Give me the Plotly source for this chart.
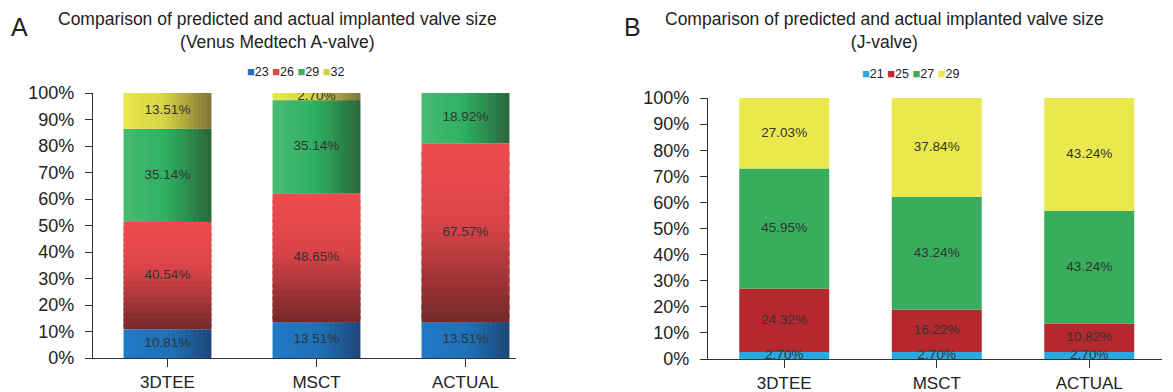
import plotly.graph_objects as go

# ---------------- data ----------------
categories = ["3DTEE", "MSCT", "ACTUAL"]

a_sizes = ["23", "26", "29", "32"]
a_23 = [10.81, 13.51, 13.51]
a_26 = [40.54, 48.65, 67.57]
a_29 = [35.14, 35.14, 18.92]
a_32 = [13.51, 2.70, 0.0]

b_sizes = ["21", "25", "27", "29"]
b_21 = [2.70, 2.70, 2.70]
b_25 = [24.32, 16.22, 10.82]
b_27 = [45.95, 43.24, 43.24]
b_29 = [27.03, 37.84, 43.24]

a_title = ["Comparison of predicted and actual implanted valve size", "(Venus Medtech A-valve)"]
b_title = ["Comparison of predicted and actual implanted valve size", "(J-valve)"]

# ---------------- styles ----------------
FONT = "Liberation Sans, Arial, Helvetica, sans-serif"
W, H = 1173, 392
OX, OY = 8, 8          # page body margin offset
BAR_W = 0.59
N_SLICES = 20
OVERLAP = 1.6


def px(x):
    return (x - OX) / W


def py(y):
    return 1 - (y - OY) / H


# gradient stops (position, colour); A panel uses shaded bars
a_grad = [
    ("h", [(0, "#2279c5"), (0.55, "#1f70b6"), (1, "#1d4777")]),
    ("v", [(0, "#ef4b4f"), (0.45, "#d94448"), (1, "#742829")]),
    ("h", [(0, "#47bc73"), (0.5, "#2eae60"), (1, "#2a663b")]),
    ("h", [(0, "#e9e84b"), (0.45, "#d8d446"), (1, "#7f7438")]),
]
a_legend_cols = ["#1f6fb8", "#e0474b", "#36b062", "#d4d244"]
b_cols = ["#29a9e0", "#b4282e", "#37ad5d", "#e9e84d"]


def hex2rgb(h):
    h = h.lstrip("#")
    return tuple(int(h[i:i + 2], 16) for i in (0, 2, 4))


def interp(stops, t):
    for (t0, c0), (t1, c1) in zip(stops[:-1], stops[1:]):
        if t <= t1:
            f = 0 if t1 == t0 else (t - t0) / (t1 - t0)
            a, b = hex2rgb(c0), hex2rgb(c1)
            return "rgb(%d,%d,%d)" % tuple(round(a[k] + (b[k] - a[k]) * f) for k in range(3))
    return "rgb(%d,%d,%d)" % hex2rgb(stops[-1][1])


fig = go.Figure()


def add_panel(series, names, xa, ya, grads=None, cols=None):
    base = [0.0] * len(categories)
    for s, vals in enumerate(series):
        if grads is None:
            fig.add_trace(go.Bar(
                x=categories, y=vals, base=list(base), width=BAR_W,
                marker=dict(color=cols[s], line=dict(width=0)),
                name=names[s], showlegend=False, xaxis=xa, yaxis=ya,
                hoverinfo="skip"))
        else:
            kind, stops = grads[s]
            for i in range(N_SLICES):
                t = (i + 0.5) / N_SLICES
                col = interp(stops, t)
                k = 1.0 if i == N_SLICES - 1 else OVERLAP
                if kind == "h":
                    sw = BAR_W / N_SLICES
                    fig.add_trace(go.Bar(
                        x=categories, y=vals, base=list(base),
                        width=sw * k, offset=-BAR_W / 2 + i * sw,
                        marker=dict(color=col, line=dict(width=0)),
                        name=names[s], showlegend=False, xaxis=xa, yaxis=ya,
                        hoverinfo="skip"))
                else:
                    # vertical shading: each segment from top (light) to bottom (dark)
                    tops = [b + v - i * v / N_SLICES for b, v in zip(base, vals)]
                    hs = [k * v / N_SLICES for v in vals]
                    fig.add_trace(go.Bar(
                        x=categories, y=hs, base=[tp - h for tp, h in zip(tops, hs)],
                        width=BAR_W, offset=-BAR_W / 2,
                        marker=dict(color=col, line=dict(width=0)),
                        name=names[s], showlegend=False, xaxis=xa, yaxis=ya,
                        hoverinfo="skip"))
        # value labels at segment middles
        lx, ly, lt = [], [], []
        for c, b, v in zip(categories, base, vals):
            if v > 0:
                lx.append(c)
                ly.append(b + v / 2)
                lt.append("%.2f%%" % v)
        fig.add_trace(go.Scatter(
            x=lx, y=ly, text=lt, mode="text",
            textfont=dict(family=FONT, size=13.5, color="#333333"),
            showlegend=False, xaxis=xa, yaxis=ya, hoverinfo="skip"))
        base = [b + v for b, v in zip(base, vals)]


add_panel([a_23, a_26, a_29, a_32], a_sizes, "x", "y", grads=a_grad)
add_panel([b_21, b_25, b_27, b_29], b_sizes, "x2", "y2", cols=b_cols)
fig.update_layout(barmode="overlay")


def xaxis_style(x0, x1, rng):
    return dict(domain=[px(x0), px(x1)], range=rng, type="category", showline=True,
                linecolor="#333333", linewidth=1.3, ticks="outside", ticklen=8,
                tickcolor="#333333", tickwidth=1.3, showgrid=False, zeroline=False,
                automargin=False,
                tickfont=dict(family=FONT, size=17, color="#222222"), fixedrange=True)


def yaxis_style(y_bottom, y_top, anchor):
    return dict(domain=[py(y_bottom), py(y_top)], range=[0, 100], dtick=10, ticksuffix="%",
                showline=True, linecolor="#333333", linewidth=1.3, ticks="outside",
                ticklen=7, tickcolor="#333333", tickwidth=1.3, showgrid=False,
                zeroline=False, anchor=anchor, ticklabelstandoff=7, automargin=False,
                tickfont=dict(family=FONT, size=18, color="#222222"), fixedrange=True)


fig.update_layout(
    xaxis=dict(**xaxis_style(93, 516, [-0.5, 2.339]), anchor="y"),
    yaxis=yaxis_style(358, 93, "x"),
    xaxis2=dict(**xaxis_style(708, 1162, [-0.5, 2.477]), anchor="y2"),
    yaxis2=yaxis_style(359, 98, "x2"),
)


def legend_text(names, cols):
    parts = []
    for n, c in zip(names, cols):
        parts.append('<span style="color:%s;font-size:13px">■</span>%s' % (c, n))
    return " ".join(parts)


ann = []
for letter, lx in (("A", 19.5), ("B", 632)):
    ann.append(dict(text=letter, x=px(lx), y=py(27), xref="paper", yref="paper",
                    showarrow=False, xanchor="center", yanchor="middle",
                    font=dict(family=FONT, size=25, color="#222222")))
for title, cx in ((a_title, 277.5), (b_title, 885)):
    ann.append(dict(text="<br>".join(title), x=px(cx), y=py(30),
                    xref="paper", yref="paper",
                    showarrow=False, xanchor="center", yanchor="middle",
                    font=dict(family=FONT, size=17.5, color="#222222")))
ann.append(dict(text=legend_text(a_sizes, a_legend_cols), x=px(296), y=py(72),
                xref="paper", yref="paper", showarrow=False, xanchor="center",
                yanchor="middle", font=dict(family=FONT, size=12.5, color="#222222")))
ann.append(dict(text=legend_text(b_sizes, b_cols), x=px(911), y=py(73),
                xref="paper", yref="paper", showarrow=False, xanchor="center",
                yanchor="middle", font=dict(family=FONT, size=12.5, color="#222222")))

fig.update_layout(
    width=W, height=H,
    margin=dict(l=0, r=0, t=0, b=0),
    paper_bgcolor="white", plot_bgcolor="white",
    showlegend=False,
    annotations=ann,
    font=dict(family=FONT),
)

fig.write_html("out.html")
